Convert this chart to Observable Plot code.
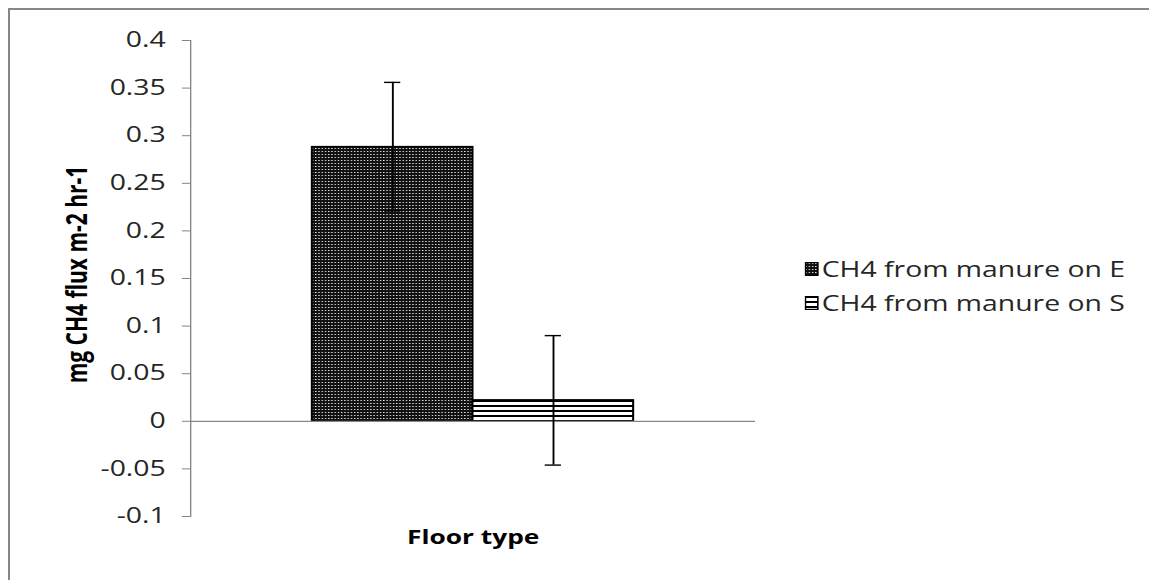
<!DOCTYPE html>
<html>
<head>
<meta charset="utf-8">
<script src="https://cdn.jsdelivr.net/npm/d3@7"></script>
<script src="https://cdn.jsdelivr.net/npm/@observablehq/plot@0.6"></script>
<style>
  html, body { margin: 0; padding: 0; background: #fff; }
  #page { position: relative; width: 1149px; height: 580px; overflow: hidden; background: #fff; }
  #border { position: absolute; left: 8px; top: 8px; width: 1141px; height: 572px;
            border-top: 2px solid #878787; border-left: 2px solid #878787; box-sizing: border-box; }
  #wrap { position: absolute; left: 0; top: 0; transform-origin: 0 0; }
  #legend { position: absolute; font-family: "Open Sans", sans-serif; font-size: 21px; color: #262626; }
  .item { position: absolute; white-space: nowrap; display: flex; align-items: center; }
  .item svg { margin-right: 2px; }
  [aria-label="y-axis tick"] { stroke: #868686; }
</style>
</head>
<body>
<svg width="0" height="0" style="position:absolute">
  <defs>
    <pattern id="patE" patternUnits="userSpaceOnUse" width="2.4" height="3">
      <rect width="2.4" height="3" fill="#111"></rect>
      <rect x="0.6" y="1" width="1" height="1" fill="#e8e8e8"></rect>
    </pattern>
    <pattern id="patS" patternUnits="userSpaceOnUse" width="5" height="5">
      <rect width="5" height="5" fill="#fff"></rect>
      <rect width="5" height="2" fill="#000"></rect>
    </pattern>
  </defs>
</svg>
<div id="page">
  <div id="border"></div>
  <div id="wrap"></div>
</div>
<script>
// ---- data ----
const series = ["CH4 from manure on E", "CH4 from manure on S"];
const means = [0.288, 0.022];
const errLow = [0.221, -0.046];
const errHigh = [0.356, 0.090];
const yTicks = [-0.1, -0.05, 0, 0.05, 0.1, 0.15, 0.2, 0.25, 0.3, 0.35, 0.4];
const yLabel = "mg CH4 flux m-2 hr-1";
const xLabel = "Floor type";
const fills = ["url(#patE)", "url(#patS)"];

const rows = series.map((s, i) => ({series: s, mean: means[i], lo: errLow[i], hi: errHigh[i]}));

// horizontal stretch of the original rendering
const S = 1.35;
const W = Math.round(1149 / S);
const mL = 190 / S;
const mR = W - 755 / S;

const chart = Plot.plot({
  width: W,
  height: 580,
  marginTop: 40,
  marginBottom: 64,
  marginLeft: mL,
  marginRight: mR,
  style: {fontFamily: "Open Sans, sans-serif", fontSize: "21px", color: "#262626", background: "transparent", overflow: "visible"},
  x: {domain: series, paddingInner: 0, paddingOuter: 0.755, axis: null},
  y: {domain: [-0.1, 0.4], axis: null},
  color: {domain: series, range: fills},
  marks: [
    Plot.frame({anchor: "left", stroke: "#868686", strokeWidth: 1}),
    Plot.barY(rows, {x: "series", y: "mean", fill: "series", stroke: "#000", strokeWidth: 1.5}),
    Plot.ruleY([0], {stroke: "#868686", strokeWidth: 1.3}),
    Plot.ruleX(rows, {x: "series", y1: "lo", y2: "hi", stroke: "#000", strokeWidth: 1.4}),
    Plot.tickY(rows, {x: "series", y: "lo", stroke: "#000", strokeWidth: 1.4, insetLeft: 53.5, insetRight: 53.5}),
    Plot.tickY(rows, {x: "series", y: "hi", stroke: "#000", strokeWidth: 1.4, insetLeft: 53.5, insetRight: 53.5}),
    Plot.axisY({ticks: yTicks, tickFormat: d => String(d), tickSize: 6, tickPadding: 12.5, label: null, fill: "#262626"}),
    Plot.text([yLabel], {frameAnchor: "left", textAnchor: "middle", rotate: -90, dx: 57.5 - mL, dy: -4, fontWeight: "bold", fontSize: 21, fill: "#000"}),
    Plot.text([xLabel], {frameAnchor: "bottom", dy: 27, fontWeight: "bold", fontSize: 19.5, fill: "#000"})
  ]
});

const wrap = document.getElementById("wrap");
wrap.style.width = W + "px";
wrap.style.height = "580px";
wrap.style.transform = `scaleX(${S})`;
wrap.appendChild(chart);

// legend
const legend = document.createElement("div");
legend.id = "legend";
legend.style.left = "0px";
legend.style.top = "0px";
const legendY = [269, 303];
series.forEach((s, i) => {
  const item = document.createElement("div");
  item.className = "item";
  item.style.left = (805 / S) + "px";
  item.style.top = (legendY[i] - 14) + "px";
  item.style.height = "28px";
  item.innerHTML = `<svg width="${(14 / S).toFixed(1)}" height="14"><rect x="0.6" y="0.6" width="${(14 / S - 1.2).toFixed(1)}" height="12.8" fill="${fills[i]}" stroke="#000" stroke-width="1.2"></rect></svg><span></span>`;
  item.querySelector("span").textContent = s;
  legend.appendChild(item);
});
wrap.appendChild(legend);
</script>
</body>
</html>
